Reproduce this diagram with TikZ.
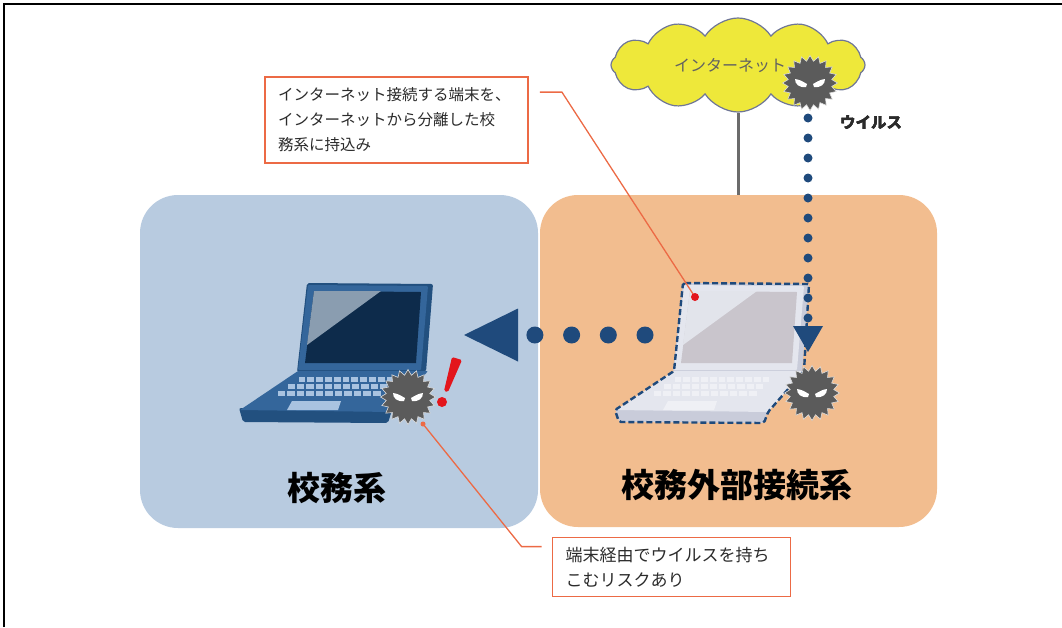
\documentclass[tikz,border=0pt]{standalone}
\usepackage{fontspec}
\newfontfamily\jp{Noto Sans CJK JP}
\usetikzlibrary{shapes.geometric,shapes.symbols,arrows.meta}

\definecolor{koumublue}{HTML}{B8CBE0}
\definecolor{gaibuorange}{HTML}{F2BD8F}
\definecolor{cloudyellow}{HTML}{EEE83A}
\definecolor{cloudedge}{HTML}{6F7696}
\definecolor{navy}{HTML}{1F4A7C}
\definecolor{virusgray}{HTML}{5B5B5B}
\definecolor{calloutred}{HTML}{EC6A45}
\definecolor{alertred}{HTML}{E3151C}
\definecolor{textgray}{HTML}{2B2B2B}
% laptop colours
\definecolor{lapbody}{HTML}{22507F}
\definecolor{lapbezel}{HTML}{34669B}
\definecolor{lapscreen}{HTML}{0D2B4B}
\definecolor{lapglare}{HTML}{8A9DB0}
\definecolor{lapkey}{HTML}{A9C3E0}
\definecolor{grbody}{HTML}{C9CCDA}
\definecolor{grbezel}{HTML}{E4E6EE}
\definecolor{grscreen}{HTML}{C9C5CC}
\definecolor{grglare}{HTML}{E2E4EB}
\definecolor{grkey}{HTML}{EFF0F5}

\tikzset{
  zone/.style={rounded corners=38pt, inner sep=0pt},
  zonetitle/.style={font=\jp\bfseries\fontsize{33}{33}\selectfont, text=black},
  note/.style={draw=calloutred, line width=1.8pt, fill=white, inner sep=0pt,
    align=left, text=textgray},
  pointer/.style={calloutred, line width=1.3pt},
  virus/.style={star, star points=20, star point ratio=1.25, minimum size=55pt,
    inner sep=0pt, fill=virusgray, draw=white!80!virusgray, line width=0.6pt},
  dots/.style={navy, line cap=round, dash pattern=on 0pt off #1},
  stem/.style={draw=black!58, line width=3pt},
}

% #1 x shift, #2 body, #3 bezel, #4 screen, #5 glare, #6 keys
\newcommand{\laptop}[6]{%
  \begin{scope}[shift={(#1,0)}]
    % lid
    \fill[#2, rounded corners=2pt] (307,283) -- (433,284) -- (426,372) -- (297,372) -- cycle;
    \fill[#3, rounded corners=1pt] (308,285) -- (428,286) -- (421,370) -- (298,370) -- cycle;
    \fill[#4] (314,291) -- (421,292) -- (416,363) -- (305,363) -- cycle;
    \fill[#5] (314,291) -- (381,291) -- (307,345) -- cycle;
    % base
    \fill[#2, rounded corners=2pt] (239,408) -- (392,410) -- (388,423) -- (243,422) -- cycle;
    \fill[#3, rounded corners=1pt] (298,371) -- (428,371) -- (392,412) -- (240,410) -- cycle;
    \foreach \r in {0,1,2}{
      \pgfmathsetmacro{\ky}{377+7*\r}
      \pgfmathsetmacro{\kx}{306-1.49*(\ky-372)}
      \pgfmathsetmacro{\kw}{(94+0.57*(\ky-372))/11}
      \foreach \c in {0,...,10}
        \fill[#6] (\kx+\c*\kw,\ky) rectangle ++(\kw-2,4.5);
    }
    % touch pad
    \fill[#6] (292,401) -- (341,401) -- (338,410) -- (287,410) -- cycle;
  \end{scope}}

\newcommand{\virusface}[1]{%
  \begin{scope}[shift={(#1.center)}]
    \fill[white] (-15,-4) .. controls (-10,-3) .. (-3,1) -- (-4,4) .. controls (-11,5) and (-15,1) .. cycle;
    \fill[white] (15,-4) .. controls (10,-3) .. (3,1) -- (4,4) .. controls (11,5) and (15,1) .. cycle;
  \end{scope}}

\begin{document}
\begin{tikzpicture}[x=1pt,y=-1pt]
  \useasboundingbox (0,0) rectangle (1062,627);
  \draw[line width=1.8pt] (4,627) -- (4,4) -- (1062,4);

  % the two networks
  \node[zone, fill=koumublue, minimum width=398pt, minimum height=333pt] (koumu) at (339,361.5) {};
  \node[zone, fill=gaibuorange, minimum width=397pt, minimum height=332pt] (gaibu) at (738.5,361) {};
  \node[zonetitle] (koumutitle) at (337,488) {校務系};
  \node[zonetitle] (gaibutitle) at (737,485) {校務外部接続系};

  % internet
  \node[cloud, cloud puffs=12, cloud puff arc=115, cloud ignores aspect, minimum width=254pt,
    minimum height=94pt, fill=cloudyellow, draw=cloudedge, line width=1.2pt] (inet) at (738,65) {};
  \draw[stem] (inet.south) -- (inet.south |- gaibu.north);
  \node[font=\jp\fontsize{16}{16}\selectfont, text=black!62] (inettext) at (730,66) {インターネット};

  % laptops
  \laptop{0}{lapbody}{lapbezel}{lapscreen}{lapglare}{lapkey}
  \laptop{376}{grbody}{grbezel}{grscreen}{grglare}{grkey}
  \draw[navy, line width=2.4pt, dash pattern=on 6pt off 3pt, rounded corners=2pt]
    (683,283) -- (809,284) -- (804,371) -- (768,412) -- (764,423) -- (619,422)
    -- (615,410) -- (674,371) -- cycle;

  % infection path
  \coordinate (vtail) at (808,118);
  \coordinate (vhead) at (808,361);
  \draw[dots=20pt, line width=9pt, -{Triangle[width=30pt,length=26pt,sep=9pt,line width=0pt]}]
    (vtail) -- (vhead);
  \coordinate (htail) at (645,335);
  \coordinate (hhead) at (458,335);
  \draw[dots=36.7pt, line width=17pt, -{Triangle[width=53pt,length=54pt,sep=6pt,line width=0pt]}]
    (htail) -- (hhead);

  % viruses
  \node[virus] (vnet) at (810,83) {};
  \node[virus] (vleak) at (812,393) {};
  \node[virus] (vhit) at (408,397) {};
  \foreach \v in {vnet,vleak,vhit}
    \virusface{\v}
  \node[font=\jp\bfseries\fontsize{15.5}{15.5}\selectfont, text=textgray] (viruslabel) at (871,123) {ウイルス};

  % alert
  \fill[alertred, rounded corners=1.5pt] (452,357) -- (462,360) -- (448,392) -- (444,391) -- cycle;
  \fill[alertred] (442,402) circle (5pt);

  % callouts
  \node[note, minimum width=263pt, minimum height=86pt, text width=237pt,
    font=\jp\fontsize{15.5}{25}\selectfont] (note1) at (396.5,120)
    {インターネット接続する端末を、\\インターネットから分離した校\\務系に持込み};
  \node[note, minimum width=238pt, minimum height=59pt, text width=212pt,
    font=\jp\fontsize{17}{25}\selectfont] (note2) at (671.5,567)
    {端末経由でウイルスを持ち\\こむリスクあり};
  \coordinate (pin1) at (695,297);
  \coordinate (pin2) at (423,424);
  \draw[pointer] ([xshift=11pt,yshift=-16pt]note1.north east) -- ++(22,0) -- (pin1);
  \draw[pointer] ([xshift=-10pt,yshift=-10pt]note2.north west) -- ++(-20,0) -- (pin2);
  \fill[alertred] (pin1) circle (4pt);
  \fill[calloutred] (pin2) circle (2.5pt);
\end{tikzpicture}
\end{document}
